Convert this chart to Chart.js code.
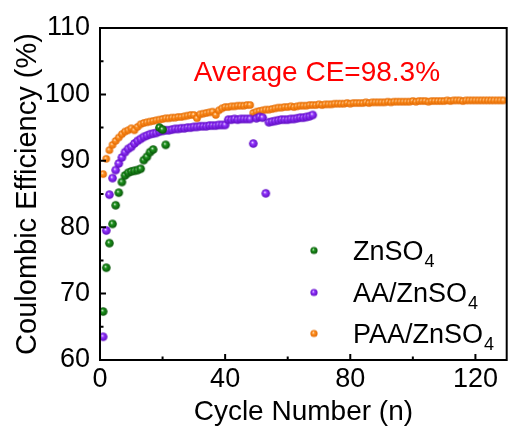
<!DOCTYPE html>
<html><head><meta charset="utf-8">
<script src="https://cdn.jsdelivr.net/npm/chart.js@4.4.0/dist/chart.umd.min.js"></script>
<style>html,body{margin:0;padding:0;background:#fff;}#wrap{width:512px;height:434px;}</style>
</head><body><div id="wrap"><canvas id="c" width="512" height="434"></canvas></div>
<script>
// ---- data ----
const cyclesZn = [1,2,3,4,5,6,7,8,9,10,11,12,13,14,15,16,17,18,19,20,21];
const ceZn = [67.3,73.9,77.6,80.5,83.3,85.2,86.8,87.8,88.2,88.4,88.5,88.6,88.8,90.1,90.6,91.3,91.7,null,95.0,94.7,92.4];

const cyclesAA = [1,2,3,4,5,6,7,8,9,10,11,12,13,14,15,16,17,18,19,20,21,22,23,24,25,26,27,28,29,30,31,32,33,34,35,36,37,38,39,40,41,42,43,44,45,46,47,48,49,50,51,52,53,54,55,56,57,58,59,60,61,62,63,64,65,66,67,68];
const ceAA = [63.5,79.5,84.9,87.4,88.6,89.6,90.5,91.3,91.8,92.1,92.6,93.0,93.3,93.6,93.8,94.0,94.1,94.2,94.4,94.5,94.6,94.6,94.7,94.8,94.8,94.9,94.9,95.0,95.0,95.1,95.1,95.2,95.2,95.2,95.3,95.3,95.3,95.4,95.4,95.4,96.2,96.2,96.3,96.2,96.3,96.3,96.3,96.3,92.6,96.4,96.6,96.5,85.1,95.8,95.9,96.0,96.1,96.2,96.2,96.2,96.3,96.3,96.4,96.5,96.5,96.6,96.7,96.9];

const cyclesPAA = [1,2,3,4,5,6,7,8,9,10,11,12,13,14,15,16,17,18,19,20,21,22,23,24,25,26,27,28,29,30,31,32,33,34,35,36,37,38,39,40,41,42,43,44,45,46,47,48,49,50,51,52,53,54,55,56,57,58,59,60,61,62,63,64,65,66,67,68,69,70,71,72,73,74,75,76,77,78,79,80,81,82,83,84,85,86,87,88,89,90,91,92,93,94,95,96,97,98,99,100,101,102,103,104,105,106,107,108,109,110,111,112,113,114,115,116,117,118,119,120,121,122,123,124,125,126,127,128,129];
const cePAA = [88.0,90.3,91.6,92.4,93.0,93.5,94.0,94.4,94.6,94.9,94.6,95.1,95.5,95.7,95.8,95.9,96.0,96.1,96.2,96.3,96.4,96.4,96.5,96.5,96.6,96.6,96.7,96.8,96.9,96.9,96.4,97.0,97.1,97.2,97.3,97.4,96.9,97.6,97.9,98.1,98.1,98.2,98.2,98.3,98.3,98.3,98.4,98.4,97.2,97.4,97.5,97.6,97.7,97.7,97.8,97.9,98.0,98.0,98.1,98.1,98.2,98.1,98.2,98.3,98.3,98.3,98.4,98.4,98.4,98.5,98.4,98.5,98.5,98.5,98.6,98.6,98.6,98.6,98.7,98.6,98.7,98.7,98.7,98.7,98.8,98.7,98.8,98.8,98.8,98.8,98.8,98.9,98.8,98.9,98.9,98.9,98.9,98.9,98.9,99.0,98.9,99.0,99.0,99.0,98.9,99.0,99.0,99.0,99.0,99.0,99.1,99.0,99.1,99.1,99.1,99.0,99.1,99.1,99.1,99.1,99.1,99.1,99.1,99.1,99.1,99.1,99.1,99.1,99.1];

const legendMain = ['ZnSO','AA/ZnSO','PAA/ZnSO'];
const legendSub = ['4','4','4'];
const xTicks = [0,40,80,120];
const xMinor = [20,60,100];
const yTicks = [60,70,80,90,100,110];
const yMinor = [65,75,85,95,105];
const annotationText = 'Average CE=98.3%';
const annotationPos = [30, 103.2];

// ---- styles ----
const FONT = "'Liberation Sans', Arial, sans-serif";
const colors = [
  {main:'#1f951f', dark:'#075407', r:4.3},
  {main:'#9436ff', dark:'#5e0cc0', r:4.3},
  {main:'#ff9326', dark:'#e26800', r:3.8}
];
const legendR = 3.6;
function sphere(c, r){
  const s=Math.ceil(r*2)+2;
  const cv=document.createElement('canvas'); cv.width=s; cv.height=s;
  const g=cv.getContext('2d'); const cx=s/2, cy=s/2;
  const gr=g.createRadialGradient(cx-r*0.25, cy-r*0.3, 0, cx, cy, r);
  gr.addColorStop(0,'#ffffff'); gr.addColorStop(0.35,c.main); gr.addColorStop(1,c.dark);
  g.fillStyle=gr; g.beginPath(); g.arc(cx,cy,r,0,Math.PI*2); g.fill();
  return cv;
}
const imgs = colors.map(c=>sphere(c,c.r));
const legImgs = colors.map(c=>sphere(c,legendR));
function pts(xs, ys){ return xs.map((x,i)=>({x:x, y:ys[i]})).filter(p=>p.y!==null); }

const overlay = {
  id:'overlay',
  afterDatasetsDraw(chart){
    const ctx=chart.ctx, a=chart.chartArea, xs=chart.scales.x, ys=chart.scales.y;
    ctx.save();
    ctx.strokeStyle='#000'; ctx.lineWidth=2;
    ctx.strokeRect(a.left, a.top, a.right-a.left, a.bottom-a.top);
    ctx.beginPath();
    xTicks.forEach(v=>{const px=xs.getPixelForValue(v); ctx.moveTo(px,a.bottom); ctx.lineTo(px,a.bottom-6);});
    xMinor.forEach(v=>{const px=xs.getPixelForValue(v); ctx.moveTo(px,a.bottom); ctx.lineTo(px,a.bottom-3.5);});
    yTicks.forEach(v=>{const py=ys.getPixelForValue(v); ctx.moveTo(a.left,py); ctx.lineTo(a.left+6,py);});
    yMinor.forEach(v=>{const py=ys.getPixelForValue(v); ctx.moveTo(a.left,py); ctx.lineTo(a.left+3.5,py);});
    ctx.stroke();
    // annotation
    ctx.fillStyle='#ff0000'; ctx.font='28px '+FONT; ctx.textAlign='left'; ctx.textBaseline='middle';
    ctx.fillText(annotationText, xs.getPixelForValue(annotationPos[0]), ys.getPixelForValue(annotationPos[1]));
    // legend
    const lx=314, tx=353, rows=[259.5,301.5,342.5];
    chart.data.datasets.forEach((d,i)=>{
      const by=rows[i];
      const im=legImgs[i];
      ctx.drawImage(im, lx-im.width/2, by-9-im.height/2);
      ctx.fillStyle='#000'; ctx.textBaseline='alphabetic'; ctx.textAlign='left';
      ctx.font='27px '+FONT; ctx.fillText(legendMain[i], tx, by);
      const w=ctx.measureText(legendMain[i]).width;
      ctx.font='18px '+FONT; ctx.fillText(legendSub[i], tx+w+1, by+7);
    });
    ctx.restore();
  }
};

new Chart(document.getElementById('c'), {
  type:'scatter',
  data:{datasets:[
    {label:legendMain[0]+legendSub[0], data:pts(cyclesZn,ceZn), pointStyle:imgs[0], pointRadius:colors[0].r},
    {label:legendMain[1]+legendSub[1], data:pts(cyclesAA,ceAA), pointStyle:imgs[1], pointRadius:colors[1].r},
    {label:legendMain[2]+legendSub[2], data:pts(cyclesPAA,cePAA), pointStyle:imgs[2], pointRadius:colors[2].r}
  ]},
  options:{
    responsive:false, animation:false, events:[],
    layout:{padding:{top:28,right:1,left:0,bottom:0}},
    plugins:{legend:{display:false}, tooltip:{enabled:false}},
    scales:{
      x:{type:'linear', min:0, max:130,
        afterBuildTicks:s=>{s.ticks=xTicks.map(v=>({value:v}));},
        afterFit:s=>{s.height=74;},
        grid:{display:false, drawTicks:false}, border:{display:false},
        ticks:{font:{family:FONT,size:27}, color:'#000', padding:3, maxRotation:0},
        title:{display:true, text:'Cycle Number (n)', font:{family:FONT,size:28}, color:'#000', padding:{top:0,bottom:5}}
      },
      y:{type:'linear', min:60, max:110,
        afterBuildTicks:s=>{s.ticks=yTicks.map(v=>({value:v}));},
        afterFit:s=>{s.width=100;},
        grid:{display:false, drawTicks:false}, border:{display:false},
        ticks:{font:{family:FONT,size:27}, color:'#000', padding:10},
        title:{display:true, text:'Coulombic Efficiency (%)', font:{family:FONT,size:29}, color:'#000', padding:{top:11,bottom:0}}
      }
    }
  },
  plugins:[overlay]
});
</script></body></html>
